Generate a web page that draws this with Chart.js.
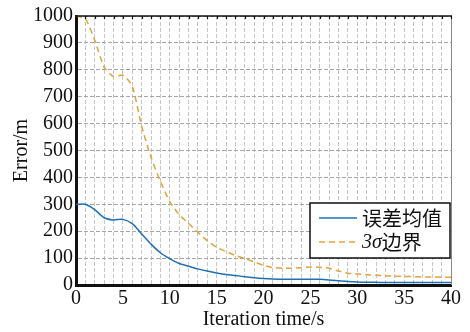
<!DOCTYPE html>
<html>
<head>
<meta charset="utf-8">
<script src="https://cdn.jsdelivr.net/npm/chart.js@4.4.1/dist/chart.umd.min.js"></script>
<style>
  html, body { margin: 0; padding: 0; background: #fff; }
  #wrap { width: 470px; height: 332px; position: relative; }
</style>
</head>
<body>
<div id="wrap"><canvas id="c" width="470" height="332"></canvas></div>
<script>
// Iteration time (s), one sample per second
const times = [0,1,2,3,4,5,6,7,8,9,10,11,12,13,14,15,16,17,18,19,20,
               21,22,23,24,25,26,27,28,29,30,31,32,33,34,35,36,37,38,39,40];

// Mean position error (m)
const meanError = [300,300,280,250,242,244,228,190,152,120,98,80,70,60,52,45,39,35,31,27,24,
                   22,21,21,21,21,21,19,16,13,11,10,10,9,9,9,9,9,9,9,9];

// 3-sigma error bound (m)
const sigmaBound = [1000,990,910,810,775,780,740,590,475,385,310,262,229,196,165,140,124,110,98,86,73,
                    65,62,62,64,67,66,62,52,44,41,38,36,34,33,32,31,30,30,29,29];

const seriesNames = ['误差均值', '3σ边界'];
const xTitle = 'Iteration time/s';
const yTitle = 'Error/m';

const BLUE = '#1f6fb4';
const GOLD = '#e3a33a';
const SERIF = "'Liberation Serif', 'DejaVu Serif', serif";
const CJK = "'Noto Sans CJK SC', sans-serif";

// Top/right frame lines with inward tick marks, plus the boxed legend
const framePlugin = {
  id: 'frame',
  afterDraw(chart) {
    const {ctx, chartArea: a, scales: {x, y}} = chart;
    ctx.save();
    // right edge
    ctx.strokeStyle = '#8a8a8a';
    ctx.lineWidth = 1;
    ctx.beginPath();
    ctx.moveTo(a.right + 0.5, a.top);
    ctx.lineTo(a.right + 0.5, a.bottom);
    ctx.stroke();
    // top edge
    ctx.strokeStyle = '#111';
    ctx.lineWidth = 1.5;
    ctx.beginPath();
    ctx.moveTo(a.left, a.top);
    ctx.lineTo(a.right + 1, a.top);
    ctx.stroke();
    // inward ticks along the top edge
    ctx.lineWidth = 1.2;
    for (const t of times) {
      const px = Math.round(x.getPixelForValue(t)) + 0.5;
      ctx.beginPath();
      ctx.moveTo(px, a.top);
      ctx.lineTo(px, a.top + 3);
      ctx.stroke();
    }

    // legend box
    const bx = 310, by = 203, bw = 140, bh = 55;
    ctx.fillStyle = '#fff';
    ctx.fillRect(bx, by, bw, bh);
    ctx.strokeStyle = '#111';
    ctx.lineWidth = 1.5;
    ctx.strokeRect(bx, by, bw, bh);

    const ds = chart.data.datasets;
    const rows = [218, 242];
    ds.forEach((d, i) => {
      const ry = rows[i];
      ctx.strokeStyle = d.borderColor;
      ctx.lineWidth = 1.6;
      ctx.setLineDash(d.borderDash || []);
      ctx.beginPath();
      ctx.moveTo(319, ry);
      ctx.lineTo(357, ry);
      ctx.stroke();
      ctx.setLineDash([]);
    });

    ctx.fillStyle = '#111';
    ctx.textBaseline = 'middle';
    ctx.textAlign = 'left';
    ctx.font = '20px ' + CJK;
    ctx.fillText(ds[0].label, 362, rows[0]);
    // "3σ" in italic serif, then the CJK part
    const lbl = ds[1].label;
    const head = lbl.slice(0, 2), tail = lbl.slice(2);
    ctx.font = 'italic 20px ' + SERIF;
    ctx.fillText(head, 362, rows[1] + 1);
    const w = ctx.measureText(head).width;
    ctx.font = '20px ' + CJK;
    ctx.fillText(tail, 362 + w, rows[1]);
    ctx.restore();
  }
};

new Chart(document.getElementById('c'), {
  type: 'line',
  data: {
    labels: times,
    datasets: [
      {
        label: seriesNames[0],
        data: times.map((t, i) => ({x: t, y: meanError[i]})),
        borderColor: BLUE,
        borderWidth: 1.5,
        pointRadius: 0,
        tension: 0.25,
        fill: false,
        clip: 3
      },
      {
        label: seriesNames[1],
        data: times.map((t, i) => ({x: t, y: sigmaBound[i]})),
        borderColor: GOLD,
        borderWidth: 1.5,
        borderDash: [6, 4],
        pointRadius: 0,
        tension: 0.2,
        fill: false,
        clip: 3
      }
    ]
  },
  options: {
    responsive: false,
    animation: false,
    devicePixelRatio: 1,
    layout: { padding: { top: 16, right: 19, left: 0, bottom: 0 } },
    plugins: { legend: { display: false }, tooltip: { enabled: false } },
    scales: {
      x: {
        type: 'linear',
        min: 0,
        max: 40,
        afterFit(s) { s.height = 47; },
        ticks: {
          stepSize: 1,
          autoSkip: false,
          maxRotation: 0,
          padding: 2,
          color: '#111',
          font: { family: SERIF, size: 20 },
          callback: v => (v % 5 === 0 ? String(v) : '')
        },
        grid: { color: '#c6c6c6', lineWidth: 1, drawTicks: false },
        border: { display: true, color: '#111', width: 3, dash: [4, 2] },
        title: {
          display: true,
          text: xTitle,
          color: '#111',
          font: { family: SERIF, size: 20 },
          padding: { top: 0, bottom: 0 }
        }
      },
      y: {
        min: 0,
        max: 1000,
        afterFit(s) { s.width = 76; },
        ticks: {
          stepSize: 100,
          autoSkip: false,
          padding: 3,
          color: '#111',
          font: { family: SERIF, size: 20 },
          callback: v => String(v)
        },
        grid: { color: '#a6a6a6', lineWidth: 1, drawTicks: false },
        border: { display: true, color: '#111', width: 3, dash: [4, 2] },
        title: {
          display: true,
          text: yTitle,
          color: '#111',
          font: { family: SERIF, size: 20 },
          padding: { top: 10, bottom: 0 }
        }
      }
    }
  },
  plugins: [framePlugin]
});
</script>
</body>
</html>
